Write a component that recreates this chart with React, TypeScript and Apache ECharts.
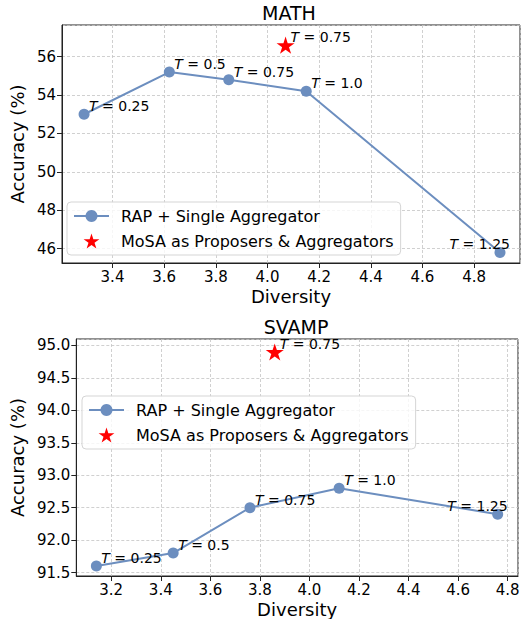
import React, { useEffect, useRef } from "react";
import * as echarts from "echarts";

// ---- Data ----
const temps: string[] = ["0.25", "0.5", "0.75", "1.0", "1.25"];

const mathDiversity: number[] = [3.29, 3.62, 3.85, 4.15, 4.9];
const mathAccuracy: number[] = [53.0, 55.2, 54.8, 54.2, 45.8];
const mathStarDiversity: number[] = [4.07];
const mathStarAccuracy: number[] = [56.6];
const mathStarTemp: string[] = ["0.75"];

const svampDiversity: number[] = [3.14, 3.45, 3.76, 4.12, 4.76];
const svampAccuracy: number[] = [91.6, 91.8, 92.5, 92.8, 92.4];
const svampStarDiversity: number[] = [3.86];
const svampStarAccuracy: number[] = [94.9];
const svampStarTemp: string[] = ["0.75"];

const titles: string[] = ["MATH", "SVAMP"];
const seriesNames: string[] = ["RAP + Single Aggregator", "MoSA as Proposers & Aggregators"];

const FONT = "DejaVu Sans";
const LINE_COLOR = "#6c8ebf";
const STAR =
  "path://M0,-10 L2.245,-3.09 L9.511,-3.09 L3.633,1.18 L5.878,8.09 L0,3.82 L-5.878,8.09 L-3.633,1.18 L-9.511,-3.09 L-2.245,-3.09 Z";

function labelFor(t: string, last: boolean) {
  return {
    show: true,
    position: "inside",
    align: last ? "right" : "left",
    verticalAlign: "bottom",
    offset: last ? [10, -1] : [5, -1],
    formatter: `{t|T} = ${t}`,
    color: "#000",
    fontFamily: FONT,
    fontSize: 14,
    lineHeight: 14,
    rich: { t: { fontStyle: "italic", fontFamily: FONT, fontSize: 14, lineHeight: 14, color: "#000" } },
  };
}

function lineData(xs: number[], ys: number[], ts: string[]) {
  return xs.map((x, i) => ({
    value: [x, ys[i]],
    label: labelFor(ts[i], i === xs.length - 1),
  }));
}

function starData(xs: number[], ys: number[], ts: string[]) {
  return xs.map((x, i) => ({ value: [x, ys[i]], label: labelFor(ts[i], false) }));
}

function xAxisCfg(gridIndex: number, min: number, max: number) {
  return {
    type: "value",
    gridIndex,
    min,
    max,
    minInterval: 0.2,
    maxInterval: 0.2,
    name: "Diversity",
    nameLocation: "middle",
    nameGap: 24,
    nameTextStyle: { fontFamily: FONT, fontSize: 18, lineHeight: 18, color: "#000", verticalAlign: "top" },
    axisLine: { show: true, onZero: false, lineStyle: { color: "#222", width: 1 } },
    axisTick: { show: true, length: 5, lineStyle: { color: "#222" } },
    axisLabel: {
      fontFamily: FONT,
      fontSize: 15,
      lineHeight: 15,
      color: "#000",
      margin: 6,
      showMinLabel: false,
      showMaxLabel: false,
      formatter: (v: number) => v.toFixed(1),
    },
    splitLine: { show: true, lineStyle: { color: "#c4c4c4", type: [3, 2], width: 0.8 } },
  };
}

function yAxisCfg(gridIndex: number, min: number, max: number, step: number, digits: number, gap: number) {
  return {
    type: "value",
    gridIndex,
    min,
    max,
    minInterval: step,
    maxInterval: step,
    name: "Accuracy (%)",
    nameLocation: "middle",
    nameGap: gap,
    nameTextStyle: { fontFamily: FONT, fontSize: 18, lineHeight: 18, color: "#000" },
    axisLine: { show: true, onZero: false, lineStyle: { color: "#222", width: 1 } },
    axisTick: { show: true, length: 5, lineStyle: { color: "#222" } },
    axisLabel: {
      fontFamily: FONT,
      fontSize: 15,
      color: "#000",
      margin: 6,
      showMinLabel: false,
      showMaxLabel: false,
      formatter: (v: number) => v.toFixed(digits),
    },
    splitLine: { show: true, lineStyle: { color: "#c4c4c4", type: [3, 2], width: 0.8 } },
  };
}

function legendCfg(left: number, top: number) {
  return {
    orient: "vertical",
    left,
    top,
    itemWidth: 35,
    itemHeight: 15,
    itemGap: 9,
    padding: [6, 7, 6, 6],
    backgroundColor: "rgba(255,255,255,0.8)",
    borderColor: "#d5d5d5",
    borderWidth: 1,
    borderRadius: 4,
    data: seriesNames,
    textStyle: { fontFamily: FONT, fontSize: 16, color: "#000", padding: [0, 0, 0, 7] },
  };
}

export default function App() {
  const ref = useRef<HTMLDivElement>(null);
  useEffect(() => {
    if (!ref.current) return;
    const chart = echarts.init(ref.current, undefined, { renderer: "svg" });
    const lineSeries = (idx: number, xs: number[], ys: number[]) => ({
      name: seriesNames[0],
      type: "line",
      xAxisIndex: idx,
      yAxisIndex: idx,
      data: lineData(xs, ys, temps),
      symbol: "circle",
      symbolSize: 11,
      itemStyle: { color: LINE_COLOR, opacity: 1 },
      lineStyle: { color: LINE_COLOR, width: 2 },
      z: 2,
    });
    const starSeries = (idx: number, xs: number[], ys: number[], ts: string[]) => ({
      name: seriesNames[1],
      type: "scatter",
      xAxisIndex: idx,
      yAxisIndex: idx,
      data: starData(xs, ys, ts),
      symbol: STAR,
      symbolKeepAspect: true,
      symbolSize: 18,
      itemStyle: { color: "#ff0000", opacity: 1 },
      z: 3,
    });
    chart.setOption({
      animation: false,
      backgroundColor: "#fff",
      title: [
        { text: titles[0], left: 289, top: 3, textAlign: "center", textStyle: { fontFamily: FONT, fontSize: 19, fontWeight: "normal", color: "#000" }, padding: 0 },
        { text: titles[1], left: 296, top: 317, textAlign: "center", textStyle: { fontFamily: FONT, fontSize: 19, fontWeight: "normal", color: "#000" }, padding: 0 },
      ],
      grid: [
        { left: 58, top: 25, width: 462, height: 238, show: true, borderColor: "#222", borderWidth: 1, backgroundColor: "transparent" },
        { left: 74, top: 339, width: 444, height: 238, show: true, borderColor: "#222", borderWidth: 1, backgroundColor: "transparent" },
      ],
      xAxis: [xAxisCfg(0, 3.2045, 4.9775), xAxisCfg(1, 3.059, 4.842)],
      yAxis: [yAxisCfg(0, 45.25, 57.65, 2, 0, 32), yAxisCfg(1, 91.447, 95.1, 0.5, 1, 48)],
      legend: [legendCfg(67, 202), legendCfg(82, 396)],
      series: [
        lineSeries(0, mathDiversity, mathAccuracy),
        starSeries(0, mathStarDiversity, mathStarAccuracy, mathStarTemp),
        lineSeries(1, svampDiversity, svampAccuracy),
        starSeries(1, svampStarDiversity, svampStarAccuracy, svampStarTemp),
      ],
    });
    return () => chart.dispose();
  }, []);
  return <div ref={ref} style={{ width: 526, height: 619, position: "absolute", left: 0, top: 0 }} />;
}
